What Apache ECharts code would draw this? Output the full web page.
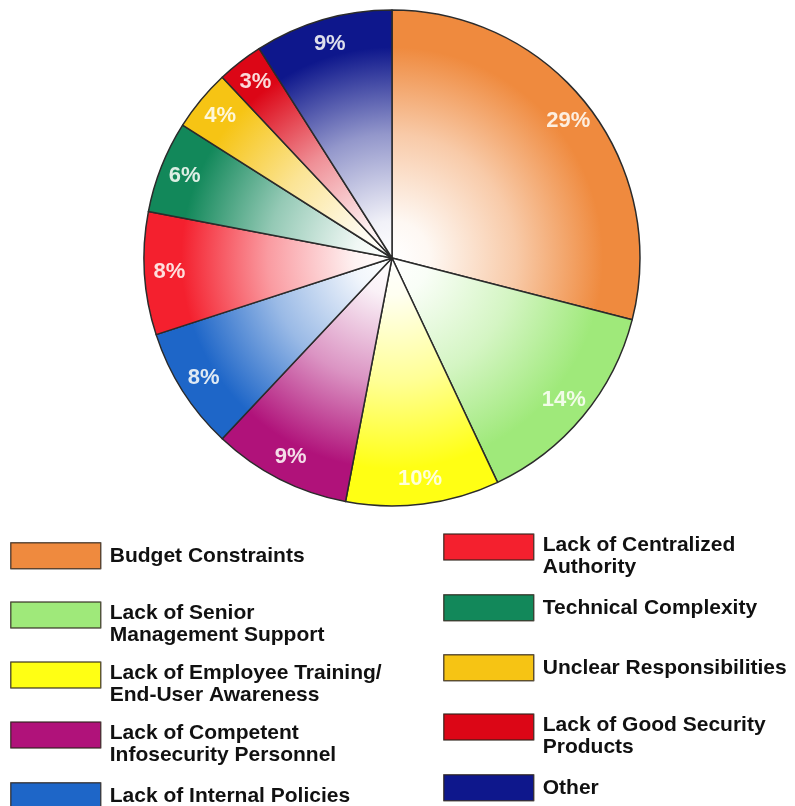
<!DOCTYPE html>
<html>
<head>
<meta charset="utf-8">
<script src="https://cdn.jsdelivr.net/npm/echarts@6/dist/echarts.min.js"></script>
<style>
  html, body { margin: 0; padding: 0; background: #ffffff; }
  #chart { width: 795px; height: 806px; }
</style>
</head>
<body>
<div id="chart"></div>
<script>
// Obstacles to information security, share of respondents (%)
const categories = [
  'Budget Constraints',
  'Lack of Senior Management Support',
  'Lack of Employee Training/End-User Awareness',
  'Lack of Competent Infosecurity Personnel',
  'Lack of Internal Policies',
  'Lack of Centralized Authority',
  'Technical Complexity',
  'Unclear Responsibilities',
  'Lack of Good Security Products',
  'Other'
];
const shares = [29, 14, 10, 9, 8, 8, 6, 4, 3, 9];
const legendLabels = [
  'Budget Constraints',
  'Lack of Senior\nManagement Support',
  'Lack of Employee Training/\nEnd-User Awareness',
  'Lack of Competent\nInfosecurity Personnel',
  'Lack of Internal Policies',
  'Lack of Centralized\nAuthority',
  'Technical Complexity',
  'Unclear Responsibilities',
  'Lack of Good Security\nProducts',
  'Other'
];
const sliceColors = [
  '#EF8A3E', '#9FE97A', '#FFFF14', '#B0127A', '#1E66C8',
  '#F4202E', '#12885A', '#F6C414', '#DC0616', '#0E178C'
];

const PIE_X = 392, PIE_Y = 258, PIE_R = 248;
const LEGEND_FONT = {
  fontFamily: 'Liberation Sans, Arial, sans-serif',
  fontWeight: 'bold',
  fontSize: 21,
  lineHeight: 22,
  color: '#111111'
};

// blend a hex colour towards white by fraction w
function tint(hex, w) {
  const n = parseInt(hex.slice(1), 16);
  const ch = [(n >> 16) & 255, (n >> 8) & 255, n & 255]
    .map(v => Math.round(v + (255 - v) * w));
  return 'rgb(' + ch.join(',') + ')';
}

// each wedge fades from white at the hub to its full colour at the rim
function wedgeFill(c) {
  return new echarts.graphic.RadialGradient(PIE_X, PIE_Y, PIE_R, [
    { offset: 0, color: '#ffffff' },
    { offset: 0.15, color: tint(c, 0.94) },
    { offset: 0.5, color: tint(c, 0.55) },
    { offset: 0.85, color: c },
    { offset: 1, color: c }
  ], true);
}

const pieData = categories.map((name, i) => ({
  name: name,
  value: shares[i],
  itemStyle: { color: wedgeFill(sliceColors[i]) }
}));

// two columns of legend entries, one legend box per entry
const legends = categories.map((name, i) => {
  const col = i < 5 ? 0 : 1;
  const row = i % 5;
  const lines = legendLabels[i].split('\n');
  const twoLine = lines.length > 1;
  const iconCenter = (col ? 547 : 555) + row * 60;
  // a thin spacer line pushes wrapped labels a little below the swatch centre
  const boxH = twoLine ? 62 : 26;
  const body = lines.map(s => '{t|' + s + '}').join('\n');
  return {
    left: col ? 443 : 10,
    top: iconCenter - boxH / 2,
    padding: 0,
    itemWidth: 90,
    itemHeight: 26,
    itemGap: 0,
    icon: 'rect',
    selectedMode: false,
    data: [{
      name: name,
      itemStyle: { color: sliceColors[i], borderColor: 'rgba(45,35,25,0.75)', borderWidth: 1.5 }
    }],
    formatter: () => twoLine ? '{gap| }\n' + body : body,
    textStyle: Object.assign({}, LEGEND_FONT, {
      rich: {
        gap: { fontSize: 2, lineHeight: 18 },
        t: Object.assign({}, LEGEND_FONT, { padding: [0, 0, 0, 4] })
      }
    })
  };
});

const chart = echarts.init(document.getElementById('chart'), null, { renderer: 'canvas' });
chart.setOption({
  backgroundColor: '#ffffff',
  animation: false,
  legend: legends,
  series: [
    {
      type: 'pie',
      center: [PIE_X, PIE_Y],
      radius: [0, PIE_R],
      startAngle: 90,
      clockwise: true,
      silent: true,
      label: { show: false },
      labelLine: { show: false },
      itemStyle: { borderColor: '#2b2b2b', borderWidth: 1.5 },
      emphasis: { disabled: true },
      data: pieData
    },
    {
      // percentage labels placed on an outer ring of the same wedges
      type: 'pie',
      center: [PIE_X, PIE_Y],
      radius: [192, PIE_R],
      startAngle: 90,
      clockwise: true,
      silent: true,
      z: 3,
      itemStyle: { color: 'rgba(0,0,0,0)', borderWidth: 0 },
      labelLine: { show: false },
      emphasis: { disabled: true },
      label: {
        show: true,
        position: 'inside',
        formatter: '{c}%',
        color: 'rgba(255,255,250,0.86)',
        fontFamily: 'Liberation Sans, Arial, sans-serif',
        fontWeight: 'bold',
        fontSize: 22
      },
      data: categories.map((name, i) => ({ name: name, value: shares[i] }))
    }
  ]
});
</script>
</body>
</html>
